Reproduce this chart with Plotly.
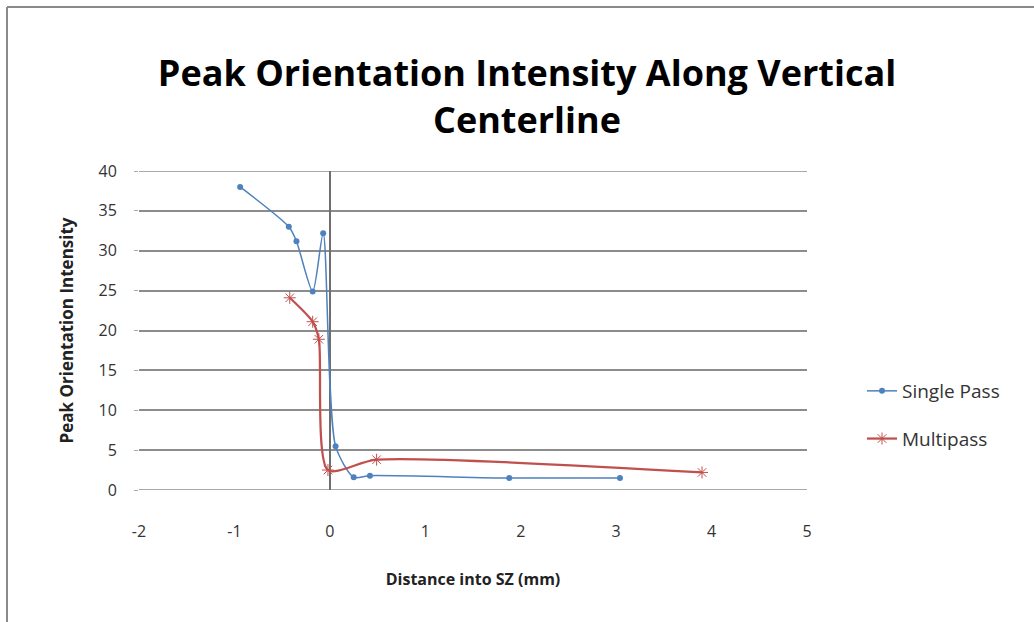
import plotly.graph_objects as go

# Single pass measurements: distance into SZ (mm) vs peak orientation intensity
single_x = [-0.94, -0.43, -0.35, -0.18, -0.07, 0.06, 0.25, 0.42, 1.88, 3.04]
single_y = [38.0, 33.0, 31.2, 24.9, 32.2, 5.5, 1.6, 1.8, 1.5, 1.5]

# Multipass measurements
multi_x = [-0.42, -0.18, -0.115, -0.02, 0.49, 3.90]
multi_y = [24.1, 21.1, 18.9, 2.5, 3.8, 2.2]

x_ticks = [-2, -1, 0, 1, 2, 3, 4, 5]
y_ticks = [0, 5, 10, 15, 20, 25, 30, 35, 40]

FONT = "Open Sans, sans-serif"
BLUE = "#4F81BD"
RED = "#C0504D"
GRID = "#8c8c8c"

W, H = 1034, 622
ML, MR, MT, MB = 139, 227, 171, 132
PW, PH = W - ML - MR, H - MT - MB

def px_to_paper_x(px):
    return (px - ML) / PW

def px_to_paper_y(py):
    return 1 - (py - MT) / PH

fig = go.Figure()
fig.add_trace(go.Scatter(
    x=single_x, y=single_y, name="Single Pass", mode="lines+markers",
    line=dict(color=BLUE, width=1.5, shape="spline", smoothing=0.7),
    marker=dict(symbol="circle", size=6, color=BLUE),
    legendgroup="a",
))
fig.add_trace(go.Scatter(
    x=multi_x, y=multi_y, name="Multipass", mode="lines+markers",
    line=dict(color=RED, width=2.25, shape="spline", smoothing=0.7),
    marker=dict(symbol="asterisk-open", size=10, color=RED, line=dict(color=RED, width=1)),
    legendgroup="b",
))

# gridlines at both ends of the value range (plotly skips grid at the plot edges)
for yv in (y_ticks[0], y_ticks[-1]):
    fig.add_shape(type="line", xref="paper", yref="y", x0=0, x1=1, y0=yv, y1=yv,
                  line=dict(color=GRID, width=1.5), layer="below")

# frame around the chart area (top and left edges)
fig.add_shape(type="line", xref="paper", yref="paper",
              x0=px_to_paper_x(7), x1=px_to_paper_x(W + 5),
              y0=px_to_paper_y(7), y1=px_to_paper_y(7),
              line=dict(color="#8a8a8a", width=2))
fig.add_shape(type="line", xref="paper", yref="paper",
              x0=px_to_paper_x(7), x1=px_to_paper_x(7),
              y0=px_to_paper_y(7), y1=px_to_paper_y(H + 5),
              line=dict(color="#8a8a8a", width=2))

fig.update_layout(
    width=W, height=H,
    margin=dict(l=ML, r=MR, t=MT, b=MB),
    paper_bgcolor="white", plot_bgcolor="white",
    font=dict(family=FONT, color="#333333"),
    title=dict(
        text="<b>Peak Orientation Intensity Along Vertical<br>Centerline</b>",
        x=527 / W, xanchor="center",
        y=1 - 86 / H, yanchor="top", yref="container",
        font=dict(family=FONT, size=36, color="#000000"),
    ),
    legend=dict(
        x=px_to_paper_x(862), xanchor="left",
        y=px_to_paper_y(372), yanchor="top",
        font=dict(family=FONT, size=19, color="#333333"),
        tracegroupgap=20, traceorder="grouped",
        bgcolor="rgba(0,0,0,0)",
    ),
    xaxis=dict(
        range=[-2, 5], tickvals=x_ticks, ticktext=[str(v) for v in x_ticks],
        showgrid=False, zeroline=True, zerolinecolor="#6e6e6e", zerolinewidth=1.5,
        showline=False, ticks="", ticklabelstandoff=30,
        tickfont=dict(family=FONT, size=16, color="#333333"),
        title=dict(text="<b>Distance into SZ (mm)</b>", standoff=32,
                   font=dict(family=FONT, size=16, color="#222222")),
    ),
    yaxis=dict(
        range=[0, 40], tickvals=y_ticks, ticktext=[str(v) for v in y_ticks],
        showgrid=True, gridcolor=GRID, gridwidth=1.5,
        zeroline=False, showline=False,
        ticks="outside", ticklen=4, tickcolor="#aaaaaa",
        ticklabelstandoff=14,
        tickfont=dict(family=FONT, size=16, color="#333333"),
        title=dict(text="<b>Peak Orientation Intensity</b>", standoff=20,
                   font=dict(family=FONT, size=17, color="#222222")),
    ),
)

fig.write_html("out.html")
